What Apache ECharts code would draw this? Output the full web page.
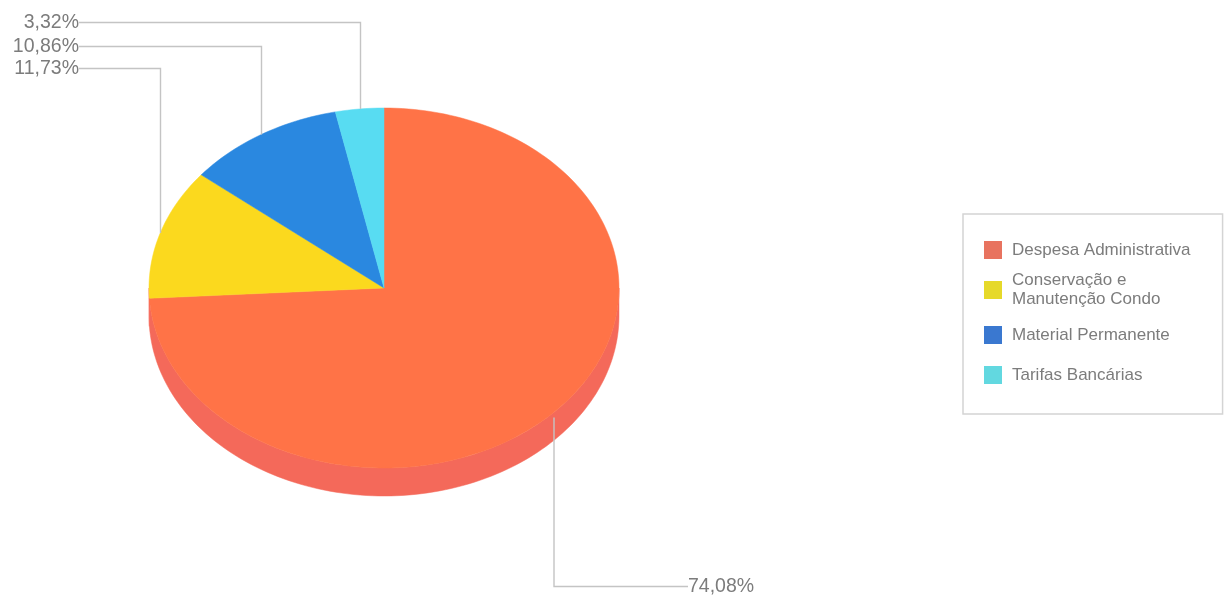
<!DOCTYPE html>
<html><head><meta charset="utf-8">
<style>html,body{margin:0;padding:0;background:#fff}#c{width:1230px;height:598px}</style>
<script src="https://cdn.jsdelivr.net/npm/echarts@6/dist/echarts.min.js"></script>
</head><body><div id="c"></div>
<script>
const categories = ['Despesa Administrativa', 'Conservação e\nManutenção Condo', 'Material Permanente', 'Tarifas Bancárias'];
const values = [74.08, 11.73, 10.86, 3.32];
const labels = ['74,08%', '11,73%', '10,86%', '3,32%'];
const topColors = ['#ff7347', '#fbd91e', '#2a88e0', '#58dcf2'];
const rimColors = ['#f4695a', '#d9b90f', '#1f6cc0', '#3fb8cc'];
const legendColors = ['#e8735f', '#e6d92a', '#3a78d0', '#62d8e0'];
const legendLineHeights = [18, 19, 28, 28];
// label anchor: [line elbow y, line end x]
const leaderEnds = [[586, 688], [68, 79], [46, 79], [22, 79]];

const CX = 384, CY = 288, RX = 235, RY = 180, DEPTH = 28;
const total = values.reduce((a, b) => a + b, 0);
const starts = [];
values.reduce((acc, v, i) => { starts[i] = acc; return acc + v; }, 0);
const pt = (deg, dy) => {
  const r = deg * Math.PI / 180;
  return [CX + RX * Math.sin(r), CY - RY * Math.cos(r) + (dy || 0)];
};
function arc(a0, a1, dy) {
  const pts = [], n = Math.max(2, Math.ceil((a1 - a0) / 1.5));
  for (let k = 0; k <= n; k++) pts.push(pt(a0 + (a1 - a0) * k / n, dy));
  return pts;
}
const rimSeries = values.map((v, i) => ({
  type: 'custom', coordinateSystem: 'none', name: categories[i] + ' rim', silent: true, z: 1,
  data: [[v]],
  renderItem: () => {
    const a0 = Math.max(starts[i] / total * 360, 90), a1 = Math.min((starts[i] + v) / total * 360, 270);
    if (a1 <= a0) return { type: 'group', children: [] };
    const upper = arc(a0, a1, 0), lower = arc(a0, a1, DEPTH).reverse();
    return { type: 'polygon', shape: { points: upper.concat(lower) },
      style: { fill: rimColors[0], stroke: rimColors[0], lineWidth: 0.5 } };
  }
}));
const topSeries = values.map((v, i) => ({
  type: 'custom', coordinateSystem: 'none', name: categories[i], silent: true, z: 2,
  itemStyle: { color: legendColors[i] },
  data: [[v]],
  renderItem: () => {
    const a0 = starts[i] / total * 360, a1 = (starts[i] + v) / total * 360;
    return { type: 'polygon', shape: { points: [[CX, CY]].concat(arc(a0, a1, 0)) },
      style: { fill: topColors[i], stroke: topColors[i], lineWidth: 0.5 } };
  }
}));
const leaderSeries = values.map((v, i) => ({
  type: 'custom', coordinateSystem: 'none', name: labels[i], silent: true, z: 3,
  data: [[v]],
  renderItem: () => {
    const mid = (starts[i] + v / 2) / total * 360;
    const p = pt(mid, mid > 90 && mid < 270 ? 6 : 0);
    const [y, endX] = leaderEnds[i];
    const right = endX > p[0];
    return { type: 'group', children: [
      { type: 'polyline', shape: { points: [[Math.round(p[0]) - 1.5 * (right ? 1 : 0) + .5, p[1]], [Math.round(p[0]) - 1.5 * (right ? 1 : 0) + .5, y + .5], [endX, y + .5]] },
        style: { fill: null, stroke: '#c4c4c4', lineWidth: 1.4 } },
      { type: 'text', style: { text: labels[i], x: endX, y: y + 1,
          align: right ? 'left' : 'right', verticalAlign: 'middle',
          fill: '#7c7c7c', font: '19.5px "Liberation Sans", Arial, sans-serif' } }
    ] };
  }
}));
const chart = echarts.init(document.getElementById('c'), null, { renderer: 'canvas' });
chart.setOption({
  animation: false,
  backgroundColor: '#fff',
  legend: {
    orient: 'vertical', left: 963, top: 214,
    padding: [27, 32, 25, 21],
    itemWidth: 18, itemHeight: 18, itemGap: 12,
    borderColor: '#d4d4d4', borderWidth: 1.5,
    selectedMode: false,
    textStyle: { fontFamily: '"Liberation Sans", Arial, sans-serif', fontSize: 17, color: '#7c7c7c', padding: [0, 0, 0, 5] },
    data: categories.map((name, i) => ({ name, icon: 'rect', itemStyle: { color: legendColors[i] },
      textStyle: { lineHeight: legendLineHeights[i] } }))
  },
  series: rimSeries.concat(topSeries, leaderSeries)
});
</script></body></html>
